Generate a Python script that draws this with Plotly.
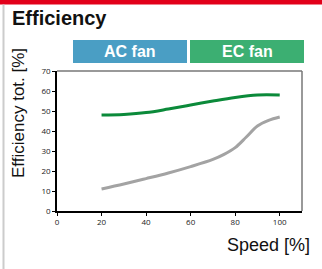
import plotly.graph_objects as go

speed_ec = [20, 30, 40, 50, 60, 70, 80, 90, 100]
eff_ec = [48, 48.3, 49.2, 51, 53, 55, 56.8, 58, 58]
speed_ac = [20, 30, 40, 50, 60, 70, 75, 80, 85, 90, 95, 100]
eff_ac = [11, 13.5, 16.2, 19, 22.2, 25.8, 28.3, 31.7, 37, 42.5, 45.3, 47]
x_ticks = [0, 20, 40, 60, 80, 100]
y_ticks = [0, 10, 20, 30, 40, 50, 60, 70]
labels = ["AC fan", "EC fan"]

W, H = 322, 269
ML, MR, MT, MB = 57, 20, 71, 58
PW, PH = W - ML - MR, H - MT - MB

def px(x):
    return (x - ML) / PW

def py(y):
    return 1 - (y - MT) / PH

fig = go.Figure()
fig.add_trace(go.Scatter(x=speed_ac, y=eff_ac, mode="lines",
                         line=dict(color="#a3a3a3", width=3, shape="spline", smoothing=1),
                         hoverinfo="skip", showlegend=False))
fig.add_trace(go.Scatter(x=speed_ec, y=eff_ec, mode="lines",
                         line=dict(color="#0b8a3a", width=3, shape="spline", smoothing=1),
                         hoverinfo="skip", showlegend=False))

tickfont = dict(family="Open Sans, sans-serif", size=8, color="#222")
fig.update_xaxes(range=[0, 110], tickvals=x_ticks, ticks="outside", ticklen=3,
                 tickcolor="#000", showline=True, linecolor="#000", linewidth=1.5,
                 showgrid=False, zeroline=False, tickfont=tickfont, fixedrange=True)
fig.update_yaxes(range=[0, 70], tickvals=y_ticks, ticks="outside", ticklen=3,
                 tickcolor="#000", showline=True, linecolor="#000", linewidth=1.5,
                 showgrid=False, zeroline=False, tickfont=tickfont, fixedrange=True)

shapes = [
    # red top bar
    dict(type="rect", xref="paper", yref="paper", x0=px(0), x1=px(W), y0=py(4.5), y1=py(-2),
         fillcolor="#e2001a", line=dict(width=0), layer="above"),
    # left gray line
    dict(type="line", xref="paper", yref="paper", x0=px(3.5), x1=px(3.5), y0=py(4.5), y1=py(H + 2),
         line=dict(color="#cccccc", width=2)),
    # top and right plot frame
    dict(type="line", xref="paper", yref="paper", x0=0, x1=1, y0=1, y1=1,
         line=dict(color="#777777", width=1.5)),
    dict(type="line", xref="paper", yref="paper", x0=1, x1=1, y0=0, y1=1,
         line=dict(color="#777777", width=1.5)),
]
box_colors = ["#4a9ec4", "#3caf72"]
box_x = [(73, 187), (190, 304)]
annotations = []
for lab, col, (x0, x1) in zip(labels, box_colors, box_x):
    shapes.append(dict(type="rect", xref="paper", yref="paper", x0=px(x0), x1=px(x1),
                       y0=py(63), y1=py(40), fillcolor=col, line=dict(width=0)))
    annotations.append(dict(text=lab, xref="paper", yref="paper", x=px((x0 + x1) / 2), y=py(51.5),
                            showarrow=False, xanchor="center", yanchor="middle",
                            font=dict(family="Liberation Sans Narrow, Arial Narrow, sans-serif",
                                      size=16, color="white", weight="bold")))

annotations += [
    dict(text="Efficiency", xref="paper", yref="paper", x=px(10), y=py(18),
         xanchor="left", yanchor="middle", showarrow=False,
         font=dict(family="Liberation Sans, Arial, sans-serif", size=20, color="#111", weight="bold")),
    dict(text="Efficiency tot. [%]", xref="paper", yref="paper", x=px(18), y=py(113),
         xanchor="center", yanchor="middle", showarrow=False, textangle=-90,
         font=dict(family="Liberation Sans, Arial, sans-serif", size=17, color="#111")),
    dict(text="Speed [%]", xref="paper", yref="paper", x=px(312), y=py(245),
         xanchor="right", yanchor="middle", showarrow=False,
         font=dict(family="Liberation Sans, Arial, sans-serif", size=18, color="#111")),
]

fig.update_layout(width=W, height=H, margin=dict(l=ML, r=MR, t=MT, b=MB),
                  paper_bgcolor="white", plot_bgcolor="white",
                  shapes=shapes, annotations=annotations, showlegend=False)

fig.write_html("out.html", config={"displayModeBar": False},
               post_script="document.body.style.margin='0';document.body.style.overflow='hidden';")
